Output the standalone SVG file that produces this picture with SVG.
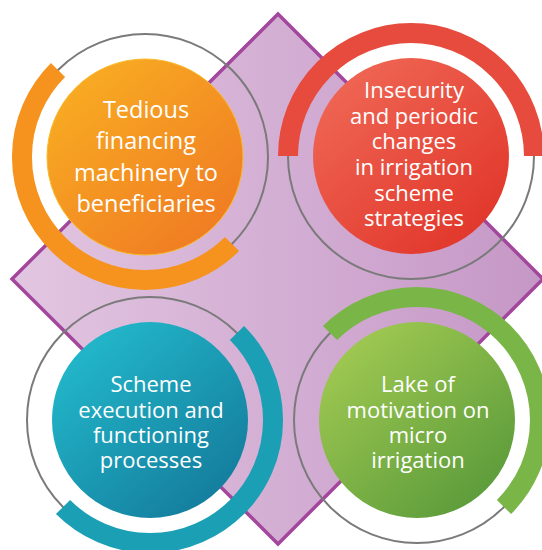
<svg xmlns="http://www.w3.org/2000/svg" width="542" height="550" viewBox="0 0 542 550">
<defs>
<linearGradient id="gDia" x1="0" y1="0" x2="1" y2="0">
<stop offset="0" stop-color="#e2c6e1"/><stop offset="1" stop-color="#c597c6"/>
</linearGradient>
<linearGradient id="gOr" x1="0.15" y1="0.1" x2="0.85" y2="0.9">
<stop offset="0" stop-color="#f8ab22"/><stop offset="1" stop-color="#f07c23"/>
</linearGradient>
<linearGradient id="gRe" x1="0.15" y1="0.1" x2="0.85" y2="0.9">
<stop offset="0" stop-color="#ef6553"/><stop offset="1" stop-color="#e1372b"/>
</linearGradient>
<linearGradient id="gTe" x1="0.15" y1="0.1" x2="0.85" y2="0.9">
<stop offset="0" stop-color="#22b7ca"/><stop offset="1" stop-color="#147d9d"/>
</linearGradient>
<linearGradient id="gGr" x1="0.15" y1="0.1" x2="0.85" y2="0.9">
<stop offset="0" stop-color="#9fc851"/><stop offset="1" stop-color="#5c9c3b"/>
</linearGradient>
</defs>
<style>
.ring{fill:none;stroke:#7a7a7a;stroke-width:2}
.arc{fill:none;stroke-width:20;stroke-linecap:butt}
.lbl{font-family:"Open Sans","Liberation Sans",sans-serif;fill:#ffffff;text-anchor:middle}
</style>
<polygon id="diamond" points="278,14 543,279 278,544 12,279" fill="url(#gDia)" stroke="#a3479d" stroke-width="3.5"/>
<g id="connectors"></g>
<g id="node-orange">
<circle class="ring" cx="145" cy="157" r="123"/>
<path class="arc" stroke="#f5931e" d="M 58 70 A 123 123 0 0 0 232 244"/>
<circle cx="145" cy="157" r="98" fill="url(#gOr)" stroke="#f9bb2c" stroke-width="1"/>
<text class="lbl" font-size="23.5"><tspan x="146" y="118">Tedious</tspan><tspan x="146" y="149">financing</tspan><tspan x="146" y="180.5">machinery to</tspan><tspan x="146" y="212">beneficiaries</tspan></text>
</g>
<g id="node-red">
<circle class="ring" cx="411" cy="156" r="123"/>
<path class="arc" stroke="#e64b3d" d="M 288 156 A 123 123 0 0 1 534 156"/>
<circle cx="411" cy="156" r="98" fill="url(#gRe)"/>
<text class="lbl" font-size="22"><tspan x="414" y="98">Insecurity</tspan><tspan x="414" y="123.5">and periodic</tspan><tspan x="414" y="149">changes</tspan><tspan x="414" y="175">in irrigation</tspan><tspan x="414" y="200.5">scheme</tspan><tspan x="414" y="226">strategies</tspan></text>
</g>
<g id="node-teal">
<circle class="ring" cx="150" cy="420" r="123"/>
<path class="arc" stroke="#1a9fb5" d="M 237 333 A 123 123 0 0 1 63 507"/>
<circle cx="150" cy="420" r="98" fill="url(#gTe)"/>
<text class="lbl" font-size="22"><tspan x="151" y="392">Scheme</tspan><tspan x="151" y="418">execution and</tspan><tspan x="151" y="443">functioning</tspan><tspan x="151" y="468">processes</tspan></text>
</g>
<g id="node-green">
<circle class="ring" cx="417" cy="420" r="123"/>
<path class="arc" stroke="#7ab547" d="M 330 333 A 123 123 0 0 1 504 507"/>
<circle cx="417" cy="420" r="98" fill="url(#gGr)"/>
<text class="lbl" font-size="22"><tspan x="418" y="392">Lake of</tspan><tspan x="418" y="418">motivation on</tspan><tspan x="418" y="443">micro</tspan><tspan x="418" y="468">irrigation</tspan></text>
</g>
</svg>
